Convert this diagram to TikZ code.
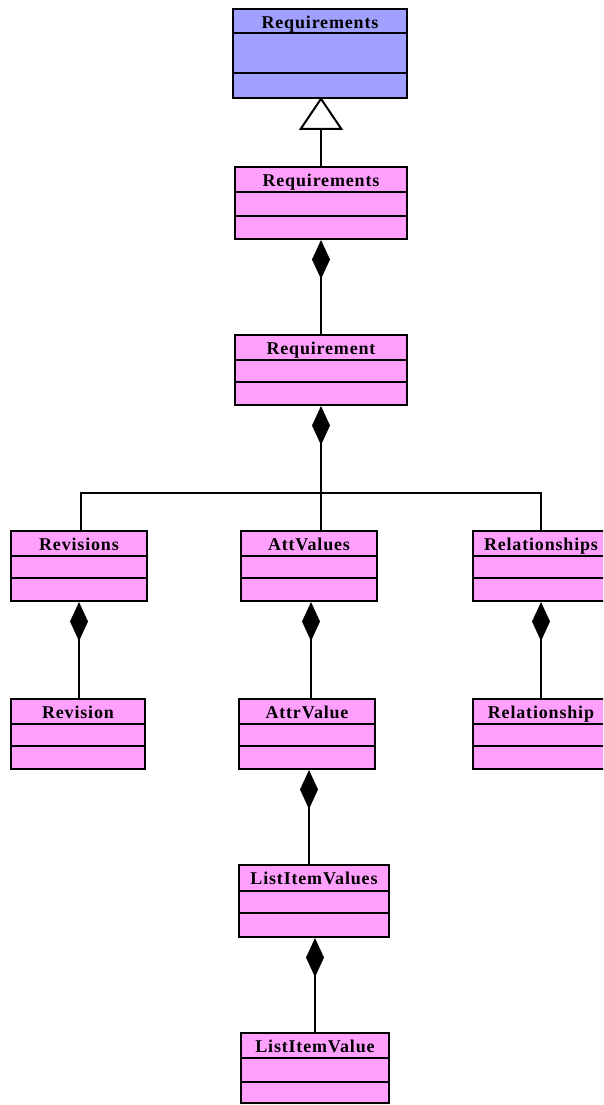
\documentclass[tikz,border=0pt]{standalone}
\usepackage{fontspec}
\setmainfont{Liberation Serif}
\usetikzlibrary{arrows.meta}
\definecolor{clsblue}{RGB}{160,160,255}
\definecolor{clspink}{RGB}{255,160,255}
\newcommand{\hdrfont}{\fontsize{18}{18}\selectfont\bfseries\addfontfeature{LetterSpace=4.6}}
\tikzset{
  cls/.style={draw=black, line width=2pt, fill=clspink, inner sep=0pt, rectangle},
  hdr/.style={font=\hdrfont, inner sep=0pt, anchor=base},
  divider/.style={line width=2pt},
  link/.style={line width=2pt},
  comp/.style={line width=2pt, {Diamond[length=39pt,width=18pt,fill=black]}-},
  gen/.style={line width=2pt, {Triangle[length=33pt,width=44pt,fill=white]}-},
}
\newcommand{\umlbox}[9][clspink]{% fill, name, cx, cy, W, H, h1, h2, text
  \node[cls, fill=#1, minimum width=#5pt, minimum height=#6pt] (#2) at (#3,#4) {};
  \node[hdr] (#2-title) at ([yshift=-20.5pt] #2.north) {#9};
  \draw[divider] ([yshift=-#7pt] #2.north west) -- ([yshift=-#7pt] #2.north east);
  \draw[divider] ([yshift=-#8pt] #2.north west) -- ([yshift=-#8pt] #2.north east);
}
\begin{document}
\begin{tikzpicture}[x=1pt,y=-1pt]
\useasboundingbox (0,0) rectangle (603,1105);
\begin{scope}
\clip (0,0) rectangle (603,1105);
\umlbox[clsblue]{top}{320}{53.5}{174}{89}{25}{65}{Requirements}
\umlbox{reqs}{321}{203}{172}{72}{26}{50}{Requirements}
\umlbox{req}{321}{370}{172}{70}{26}{48}{Requirement}
\umlbox{revisions}{79}{566}{136}{70}{26}{48}{Revisions}
\umlbox{attvalues}{309}{566}{136}{70}{26}{48}{AttValues}
\umlbox{relationships}{541}{566}{136}{70}{26}{48}{Relationships}
\umlbox{revision}{78}{734}{134}{70}{26}{48}{Revision}
\umlbox{attrvalue}{307}{734}{136}{70}{26}{48}{AttrValue}
\umlbox{relationship}{541}{734}{136}{70}{26}{48}{Relationship}
\umlbox{listitemvalues}{314}{901}{150}{72}{27}{49}{ListItemValues}
\umlbox{listitemvalue}{315}{1068}{148}{70}{26}{50}{ListItemValue}
\end{scope}
% generalisation
\draw[gen] ([yshift=2pt]top.south -| reqs.north) -- (reqs.north);
% compositions
\draw[comp] (reqs.south) -- (req.north);
\coordinate (j) at (321,493);
\draw[comp] (req.south) -- (req.south |- j);
\draw[link] ([xshift=2pt]revisions.north) |- (j) -| (relationships.north);
\draw[link] (j) -- (j |- attvalues.north);
\draw[comp] (revisions.south) -- (revisions.south |- revision.north);
\draw[comp] ([xshift=2pt]attvalues.south) -- ([xshift=2pt]attvalues.south |- attrvalue.north);
\draw[comp] (relationships.south) -- (relationship.north);
\draw[comp] ([xshift=2pt]attrvalue.south) -- ([xshift=2pt]attrvalue.south |- listitemvalues.north);
\draw[comp] ([xshift=1pt]listitemvalues.south) -- ([xshift=1pt]listitemvalues.south |- listitemvalue.north);
\end{tikzpicture}
\end{document}
